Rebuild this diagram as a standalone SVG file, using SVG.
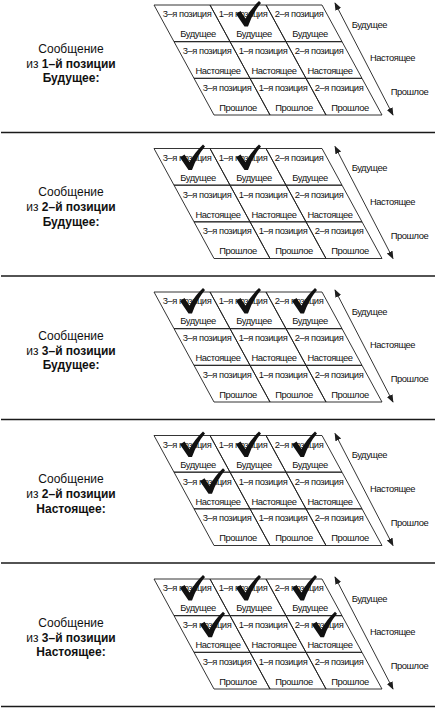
<svg xmlns="http://www.w3.org/2000/svg" xmlns:xlink="http://www.w3.org/1999/xlink" width="438" height="709" viewBox="0 0 438 709">
<style>
.cell{fill:none;stroke:#1e1e1e;stroke-width:0.9}
.t{font-family:"Liberation Sans",Arial,sans-serif;font-size:9.4px;letter-spacing:-0.45px;fill:#111;text-anchor:middle}
.r{font-family:"Liberation Sans",Arial,sans-serif;font-size:9.4px;letter-spacing:-0.45px;fill:#111}
.lab{font-family:"Liberation Sans",Arial,sans-serif;font-size:12px;fill:#111;text-anchor:middle}
.b{font-weight:bold}
.sep{stroke:#1a1a1a;stroke-width:1.4}
.arr{stroke:#1e1e1e;stroke-width:0.9;fill:none;marker-start:url(#ah);marker-end:url(#ah)}
.chk{fill:#111}
</style>
<defs>
<marker id="ah" viewBox="0 0 10 10" refX="9" refY="5" markerWidth="8" markerHeight="8" markerUnits="userSpaceOnUse" orient="auto-start-reverse"><path d="M0,1 L10,5 L0,9 Z" fill="#1e1e1e"/></marker>
<path id="chk" d="M0,13 L4.5,10 L9.5,17.5 Q15,7.5 23,0 L25,2 Q17,11.5 12,25.5 L8.5,25.5 Z"/>
<g id="grid">
<polygon class="cell" points="154,5 210,5 230,41.67 174,41.67"/>
<polygon class="cell" points="210,5 266,5 286,41.67 230,41.67"/>
<polygon class="cell" points="266,5 322,5 342,41.67 286,41.67"/>
<polygon class="cell" points="174,41.67 230,41.67 250,78.33 194,78.33"/>
<polygon class="cell" points="230,41.67 286,41.67 306,78.33 250,78.33"/>
<polygon class="cell" points="286,41.67 342,41.67 362,78.33 306,78.33"/>
<polygon class="cell" points="194,78.33 250,78.33 270,115 214,115"/>
<polygon class="cell" points="250,78.33 306,78.33 326,115 270,115"/>
<polygon class="cell" points="306,78.33 362,78.33 382,115 326,115"/>
</g>
</defs>

<!-- Panel 1 -->
<g id="panel1">
<g id="p1-label"><text class="lab" x="71" y="52.5">Сообщение</text><text class="lab" x="71" y="67.5">из <tspan class="b">1–й позиции</tspan></text><text class="lab b" x="71" y="82">Будущее:</text></g>
<g id="p1-cells">
<use href="#grid"/>
<g id="p1-r0c0"><text class="t" x="187" y="17.3">3–я позиция</text><text class="t" x="198" y="37.3">Будущее</text></g>
<g id="p1-r0c1"><text class="t" x="243" y="17.3">1–я позиция</text><text class="t" x="254" y="37.3">Будущее</text></g>
<g id="p1-r0c2"><text class="t" x="299" y="17.3">2–я позиция</text><text class="t" x="310" y="37.3">Будущее</text></g>
<g id="p1-r1c0"><text class="t" x="207" y="54">3–я позиция</text><text class="t" x="218" y="74">Настоящее</text></g>
<g id="p1-r1c1"><text class="t" x="263" y="54">1–я позиция</text><text class="t" x="274" y="74">Настоящее</text></g>
<g id="p1-r1c2"><text class="t" x="319" y="54">2–я позиция</text><text class="t" x="330" y="74">Настоящее</text></g>
<g id="p1-r2c0"><text class="t" x="227" y="90.7">3–я позиция</text><text class="t" x="238" y="110.7">Прошлое</text></g>
<g id="p1-r2c1"><text class="t" x="283" y="90.7">1–я позиция</text><text class="t" x="294" y="110.7">Прошлое</text></g>
<g id="p1-r2c2"><text class="t" x="339" y="90.7">2–я позиция</text><text class="t" x="350" y="110.7">Прошлое</text></g>
</g>
<g id="p1-checks" class="chk"><use href="#chk" x="236" y="1"/></g>
<g id="p1-axis"><text class="r" x="351.7" y="27.5">Будущее</text><text class="r" x="370" y="61">Настоящее</text><text class="r" x="390.7" y="95">Прошлое</text></g>
</g>

<!-- Panel 2 -->
<g id="panel2" transform="translate(0,143.5)">
<g id="p2-label"><text class="lab" x="71" y="52.5">Сообщение</text><text class="lab" x="71" y="67.5">из <tspan class="b">2–й позиции</tspan></text><text class="lab b" x="71" y="82">Будущее:</text></g>
<g id="p2-cells">
<use href="#grid"/>
<g id="p2-r0c0"><text class="t" x="187" y="17.3">3–я позиция</text><text class="t" x="198" y="37.3">Будущее</text></g>
<g id="p2-r0c1"><text class="t" x="243" y="17.3">1–я позиция</text><text class="t" x="254" y="37.3">Будущее</text></g>
<g id="p2-r0c2"><text class="t" x="299" y="17.3">2–я позиция</text><text class="t" x="310" y="37.3">Будущее</text></g>
<g id="p2-r1c0"><text class="t" x="207" y="54">3–я позиция</text><text class="t" x="218" y="74">Настоящее</text></g>
<g id="p2-r1c1"><text class="t" x="263" y="54">1–я позиция</text><text class="t" x="274" y="74">Настоящее</text></g>
<g id="p2-r1c2"><text class="t" x="319" y="54">2–я позиция</text><text class="t" x="330" y="74">Настоящее</text></g>
<g id="p2-r2c0"><text class="t" x="227" y="90.7">3–я позиция</text><text class="t" x="238" y="110.7">Прошлое</text></g>
<g id="p2-r2c1"><text class="t" x="283" y="90.7">1–я позиция</text><text class="t" x="294" y="110.7">Прошлое</text></g>
<g id="p2-r2c2"><text class="t" x="339" y="90.7">2–я позиция</text><text class="t" x="350" y="110.7">Прошлое</text></g>
</g>
<g id="p2-checks" class="chk"><use href="#chk" x="180" y="1"/><use href="#chk" x="236" y="1"/></g>
<g id="p2-axis"><text class="r" x="351.7" y="27.5">Будущее</text><text class="r" x="370" y="61">Настоящее</text><text class="r" x="390.7" y="95">Прошлое</text></g>
</g>

<!-- Panel 3 -->
<g id="panel3" transform="translate(0,287)">
<g id="p3-label"><text class="lab" x="71" y="52.5">Сообщение</text><text class="lab" x="71" y="67.5">из <tspan class="b">3–й позиции</tspan></text><text class="lab b" x="71" y="82">Будущее:</text></g>
<g id="p3-cells">
<use href="#grid"/>
<g id="p3-r0c0"><text class="t" x="187" y="17.3">3–я позиция</text><text class="t" x="198" y="37.3">Будущее</text></g>
<g id="p3-r0c1"><text class="t" x="243" y="17.3">1–я позиция</text><text class="t" x="254" y="37.3">Будущее</text></g>
<g id="p3-r0c2"><text class="t" x="299" y="17.3">2–я позиция</text><text class="t" x="310" y="37.3">Будущее</text></g>
<g id="p3-r1c0"><text class="t" x="207" y="54">3–я позиция</text><text class="t" x="218" y="74">Настоящее</text></g>
<g id="p3-r1c1"><text class="t" x="263" y="54">1–я позиция</text><text class="t" x="274" y="74">Настоящее</text></g>
<g id="p3-r1c2"><text class="t" x="319" y="54">2–я позиция</text><text class="t" x="330" y="74">Настоящее</text></g>
<g id="p3-r2c0"><text class="t" x="227" y="90.7">3–я позиция</text><text class="t" x="238" y="110.7">Прошлое</text></g>
<g id="p3-r2c1"><text class="t" x="283" y="90.7">1–я позиция</text><text class="t" x="294" y="110.7">Прошлое</text></g>
<g id="p3-r2c2"><text class="t" x="339" y="90.7">2–я позиция</text><text class="t" x="350" y="110.7">Прошлое</text></g>
</g>
<g id="p3-checks" class="chk"><use href="#chk" x="180" y="1"/><use href="#chk" x="236" y="1"/><use href="#chk" x="292" y="1"/></g>
<g id="p3-axis"><text class="r" x="351.7" y="27.5">Будущее</text><text class="r" x="370" y="61">Настоящее</text><text class="r" x="390.7" y="95">Прошлое</text></g>
</g>

<!-- Panel 4 -->
<g id="panel4" transform="translate(0,430.5)">
<g id="p4-label"><text class="lab" x="71" y="52.5">Сообщение</text><text class="lab" x="71" y="67.5">из <tspan class="b">2–й позиции</tspan></text><text class="lab b" x="71" y="82">Настоящее:</text></g>
<g id="p4-cells">
<use href="#grid"/>
<g id="p4-r0c0"><text class="t" x="187" y="17.3">3–я позиция</text><text class="t" x="198" y="37.3">Будущее</text></g>
<g id="p4-r0c1"><text class="t" x="243" y="17.3">1–я позиция</text><text class="t" x="254" y="37.3">Будущее</text></g>
<g id="p4-r0c2"><text class="t" x="299" y="17.3">2–я позиция</text><text class="t" x="310" y="37.3">Будущее</text></g>
<g id="p4-r1c0"><text class="t" x="207" y="54">3–я позиция</text><text class="t" x="218" y="74">Настоящее</text></g>
<g id="p4-r1c1"><text class="t" x="263" y="54">1–я позиция</text><text class="t" x="274" y="74">Настоящее</text></g>
<g id="p4-r1c2"><text class="t" x="319" y="54">2–я позиция</text><text class="t" x="330" y="74">Настоящее</text></g>
<g id="p4-r2c0"><text class="t" x="227" y="90.7">3–я позиция</text><text class="t" x="238" y="110.7">Прошлое</text></g>
<g id="p4-r2c1"><text class="t" x="283" y="90.7">1–я позиция</text><text class="t" x="294" y="110.7">Прошлое</text></g>
<g id="p4-r2c2"><text class="t" x="339" y="90.7">2–я позиция</text><text class="t" x="350" y="110.7">Прошлое</text></g>
</g>
<g id="p4-checks" class="chk"><use href="#chk" x="180" y="1"/><use href="#chk" x="236" y="1"/><use href="#chk" x="292" y="1"/><use href="#chk" x="200" y="37.7"/></g>
<g id="p4-axis"><text class="r" x="351.7" y="27.5">Будущее</text><text class="r" x="370" y="61">Настоящее</text><text class="r" x="390.7" y="95">Прошлое</text></g>
</g>

<!-- Panel 5 -->
<g id="panel5" transform="translate(0,574)">
<g id="p5-label"><text class="lab" x="71" y="52.5">Сообщение</text><text class="lab" x="71" y="67.5">из <tspan class="b">3–й позиции</tspan></text><text class="lab b" x="71" y="82">Настоящее:</text></g>
<g id="p5-cells">
<use href="#grid"/>
<g id="p5-r0c0"><text class="t" x="187" y="17.3">3–я позиция</text><text class="t" x="198" y="37.3">Будущее</text></g>
<g id="p5-r0c1"><text class="t" x="243" y="17.3">1–я позиция</text><text class="t" x="254" y="37.3">Будущее</text></g>
<g id="p5-r0c2"><text class="t" x="299" y="17.3">2–я позиция</text><text class="t" x="310" y="37.3">Будущее</text></g>
<g id="p5-r1c0"><text class="t" x="207" y="54">3–я позиция</text><text class="t" x="218" y="74">Настоящее</text></g>
<g id="p5-r1c1"><text class="t" x="263" y="54">1–я позиция</text><text class="t" x="274" y="74">Настоящее</text></g>
<g id="p5-r1c2"><text class="t" x="319" y="54">2–я позиция</text><text class="t" x="330" y="74">Настоящее</text></g>
<g id="p5-r2c0"><text class="t" x="227" y="90.7">3–я позиция</text><text class="t" x="238" y="110.7">Прошлое</text></g>
<g id="p5-r2c1"><text class="t" x="283" y="90.7">1–я позиция</text><text class="t" x="294" y="110.7">Прошлое</text></g>
<g id="p5-r2c2"><text class="t" x="339" y="90.7">2–я позиция</text><text class="t" x="350" y="110.7">Прошлое</text></g>
</g>
<g id="p5-checks" class="chk"><use href="#chk" x="180" y="1"/><use href="#chk" x="236" y="1"/><use href="#chk" x="292" y="1"/><use href="#chk" x="200" y="37.7"/><use href="#chk" x="312" y="37.7"/></g>
<g id="p5-axis"><text class="r" x="351.7" y="27.5">Будущее</text><text class="r" x="370" y="61">Настоящее</text><text class="r" x="390.7" y="95">Прошлое</text></g>
</g>

<g id="connectors">
<line class="arr" x1="335" y1="3" x2="393" y2="115"/>
<line class="arr" x1="335" y1="146.5" x2="393" y2="258.5"/>
<line class="arr" x1="335" y1="290" x2="393" y2="402"/>
<line class="arr" x1="335" y1="433.5" x2="393" y2="545.5"/>
<line class="arr" x1="335" y1="577" x2="393" y2="689"/>
</g>

<g id="separators">
<line class="sep" x1="1" y1="132.5" x2="435" y2="132.5"/>
<line class="sep" x1="1" y1="276" x2="435" y2="276"/>
<line class="sep" x1="1" y1="419.5" x2="435" y2="419.5"/>
<line class="sep" x1="1" y1="563" x2="435" y2="563"/>
<line class="sep" x1="1" y1="706.5" x2="435" y2="706.5"/>
</g>
</svg>
